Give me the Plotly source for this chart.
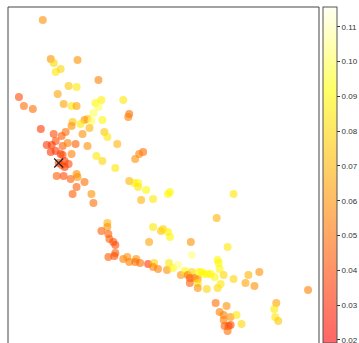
import plotly.graph_objects as go
import colorsys

# ---- data (arbitrary units, no axes shown) ----
x_vals = [43, 51, 54, 78, 56, 61, 99, 69, 77, 58, 19, 24, 33, 64, 72, 77, 96, 102, 124, 130,
          129, 99, 94, 103, 88, 85, 73, 81, 92, 72, 90, 41, 66, 54, 83, 105, 108, 62, 56, 47,
          52, 63, 68, 76, 88, 118, 51, 56, 61, 63, 72, 97, 144, 140, 136, 103, 116, 59, 65, 69,
          65, 62, 57, 64, 77, 78, 71, 85, 77, 73, 92, 94, 130, 135, 139, 139, 147, 142, 154, 169,
          171, 108, 108, 102, 109, 110, 114, 116, 116, 115, 109, 124, 128, 130, 137, 136, 141, 149, 155, 154,
          159, 168, 170, 174, 154, 162, 164, 169, 171, 150, 235, 218, 192, 229, 193, 219, 220, 221, 225, 216,
          179, 182, 186, 189, 193, 191, 191, 196, 199, 199, 199, 200, 203, 205, 209, 212, 208, 219, 222, 235,
          250, 261, 247, 256, 310, 217, 228, 221, 225, 232, 238, 225, 226, 230, 232, 229, 243, 278, 276, 277,
          280]
y_vals = [20, 59, 63, 60, 72, 69, 80, 86, 87, 94, 97, 106, 109, 104, 106, 106, 103, 100, 100, 114,
          117, 107, 113, 120, 119, 120, 122, 124, 121, 126, 128, 129, 132, 134, 134, 132, 137, 136, 141, 145,
          145, 146, 143, 144, 146, 144, 152, 151, 154, 155, 154, 156, 152, 154, 159, 161, 168, 163, 161, 164,
          167, 165, 176, 176, 174, 177, 179, 182, 187, 194, 194, 203, 181, 183, 183, 187, 190, 200, 199, 194,
          192, 223, 227, 231, 234, 239, 242, 245, 253, 256, 257, 259, 257, 262, 259, 262, 263, 264, 263, 267,
          269, 270, 263, 268, 227, 231, 229, 232, 237, 242, 194, 218, 242, 247, 255, 260, 263, 269, 275, 277,
          265, 275, 271, 275, 272, 278, 283, 278, 279, 283, 288, 272, 272, 274, 274, 274, 289, 288, 284, 279,
          275, 272, 283, 286, 290, 303, 306, 312, 315, 317, 315, 320, 326, 326, 325, 331, 324, 303, 309, 317,
          321]
z_vals = [0.060, 0.060, 0.080, 0.060, 0.085, 0.080, 0.055, 0.075, 0.085, 0.065, 0.040, 0.050, 0.050, 0.065, 0.085, 0.065, 0.090, 0.088, 0.085, 0.050,
          0.055, 0.100, 0.100, 0.090, 0.075, 0.060, 0.075, 0.085, 0.100, 0.060, 0.070, 0.035, 0.050, 0.040, 0.060, 0.075, 0.085, 0.045, 0.040, 0.035,
          0.035, 0.045, 0.055, 0.045, 0.060, 0.070, 0.035, 0.035, 0.035, 0.040, 0.055, 0.085, 0.050, 0.055, 0.060, 0.080, 0.085, 0.035, 0.035, 0.040,
          0.035, 0.040, 0.045, 0.040, 0.060, 0.060, 0.045, 0.050, 0.045, 0.045, 0.060, 0.050, 0.070, 0.085, 0.090, 0.085, 0.090, 0.070, 0.085, 0.090,
          0.090, 0.070, 0.060, 0.045, 0.045, 0.045, 0.040, 0.040, 0.045, 0.040, 0.045, 0.055, 0.060, 0.055, 0.060, 0.050, 0.050, 0.035, 0.080, 0.055,
          0.055, 0.060, 0.085, 0.090, 0.085, 0.075, 0.080, 0.088, 0.090, 0.065, 0.085, 0.070, 0.060, 0.085, 0.105, 0.090, 0.090, 0.090, 0.080, 0.090,
          0.105, 0.060, 0.090, 0.050, 0.080, 0.045, 0.045, 0.050, 0.060, 0.085, 0.060, 0.090, 0.090, 0.090, 0.090, 0.090, 0.080, 0.080, 0.085, 0.080,
          0.070, 0.060, 0.065, 0.060, 0.055, 0.050, 0.060, 0.055, 0.055, 0.060, 0.085, 0.055, 0.045, 0.040, 0.040, 0.050, 0.080, 0.065, 0.085, 0.085,
          0.075]
mark_x = [59]
mark_y = [163]
cbar_ticks = [0.02, 0.03, 0.04, 0.05, 0.06, 0.07, 0.08, 0.09, 0.10, 0.11]
z_min, z_max = 0.0191, 0.1157

# ---- heat colormap (R heat.colors style) ----
ALPHA = 0.6
def heat(t):
    if t <= 0.75:
        h = (t / 0.75) / 6.0
        r, g, b = colorsys.hsv_to_rgb(h, 1.0, 1.0)
    else:
        s = 1.0 - (t - 0.75) / 0.25 * 0.92
        r, g, b = colorsys.hsv_to_rgb(1 / 6.0, s, 1.0)
    return r, g, b

N = 40
scale_full, scale_blend = [], []
for i in range(N + 1):
    t = i / N
    r, g, b = heat(t)
    scale_full.append([t, f"rgb({int(r*255)},{int(g*255)},{int(b*255)})"])
    br = 255 * (1 - ALPHA) + r * 255 * ALPHA
    bg = 255 * (1 - ALPHA) + g * 255 * ALPHA
    bb = 255 * (1 - ALPHA) + b * 255 * ALPHA
    scale_blend.append([t, f"rgb({int(br)},{int(bg)},{int(bb)})"])

fig = go.Figure()
fig.add_trace(go.Scatter(
    x=x_vals, y=y_vals, mode="markers",
    marker=dict(size=8, color=z_vals, colorscale=scale_full, cmin=z_min, cmax=z_max,
                opacity=ALPHA, line=dict(width=0), showscale=False),
    hoverinfo="skip", showlegend=False))
# colorbar carrier (invisible markers)
fig.add_trace(go.Scatter(
    x=x_vals, y=y_vals, mode="markers",
    marker=dict(size=8, color=z_vals, colorscale=scale_blend, cmin=z_min, cmax=z_max,
                opacity=0,
                colorbar=dict(x=1.0128, xanchor="left", xpad=0, y=1, yanchor="top", ypad=0,
                              len=1, lenmode="fraction", thickness=14, thicknessmode="pixels",
                              outlinewidth=1, outlinecolor="#555",
                              tickvals=cbar_ticks, tickformat=".2f", ticks="outside",
                              ticklen=3, tickwidth=1, tickcolor="#333",
                              ticklabeloverflow="allow",
                              tickfont=dict(size=8, color="#333", family="Liberation Sans"))),
    hoverinfo="skip", showlegend=False))
fig.add_trace(go.Scatter(
    x=mark_x, y=mark_y, mode="markers",
    marker=dict(symbol="x-thin-open", size=9, color="#222", line=dict(width=1.2, color="#222")),
    hoverinfo="skip", showlegend=False))

for x0, y0, x1, y1 in [(0, 0, 0, 1), (0, 1, 1, 1), (1, 0, 1, 1)]:
    fig.add_shape(type="line", xref="paper", yref="paper", x0=x0, y0=y0, x1=x1, y1=y1,
                  line=dict(color="#444", width=1))

fig.update_xaxes(range=[8, 321], showgrid=False, zeroline=False, showticklabels=False,
                 ticks="", showline=False)
fig.update_yaxes(range=[343, 7], showgrid=False, zeroline=False, showticklabels=False,
                 ticks="", showline=False)
fig.update_layout(width=359, height=343, margin=dict(l=8, r=38, t=7, b=0),
                  paper_bgcolor="white", plot_bgcolor="white")
fig.write_html("out.html")
